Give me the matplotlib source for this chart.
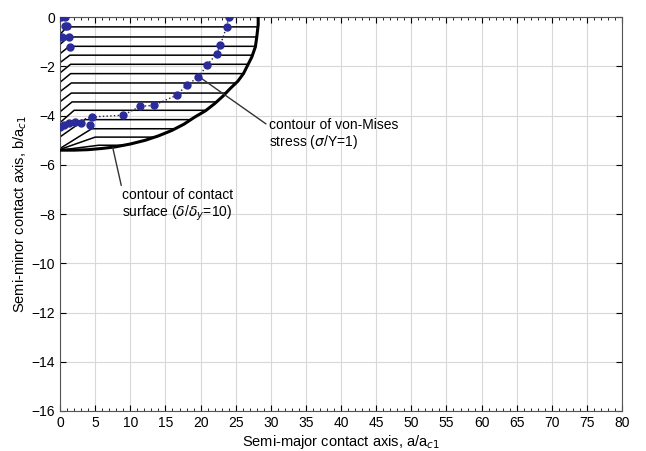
import numpy as np
import matplotlib.pyplot as plt

plt.rcParams['font.family'] = ['Liberation Sans', 'DejaVu Sans']

# outer contour of contact surface (delta/delta_y = 10)
outer_x = [28.2, 28.2, 28.0, 27.8, 27.3, 26.7, 26.1, 25.3, 24.2, 23.2, 22.0, 20.7, 19.2, 17.6,
           15.9, 14.0, 12.1, 10.0, 7.8, 6.0, 4.0, 2.0, 0.0]
outer_y = [0.0, -0.3, -0.8, -1.2, -1.61, -1.95, -2.29, -2.6, -2.9, -3.2, -3.51, -3.8, -4.05, -4.35,
           -4.6, -4.82, -5.0, -5.15, -5.27, -5.33, -5.38, -5.4, -5.4]

# von-Mises contour (sigma/Y = 1)
vm_x = [0.5, 2.1, 4.5, 9.0, 11.4, 13.3, 16.6, 18.0, 19.7, 20.9, 22.3, 22.8, 23.7, 24.0]
vm_y = [-4.39, -4.26, -4.05, -3.98, -3.62, -3.58, -3.17, -2.76, -2.43, -1.95, -1.48, -1.14, -0.39, 0.0]
vm_extra_x = [4.3, 3.0, 1.2, 0.0, 0.7, 0.7, 1.2, 1.4, 0.2, 1.0, 0.3]
vm_extra_y = [-4.39, -4.3, -4.3, -4.45, 0.0, -0.37, -0.8, -1.2, 0.0, -0.37, -0.8]

# hatching of the contact region
hatch_y = [0.0, -0.39, -0.8, -1.18, -1.54, -1.91, -2.29, -2.67, -3.08, -3.44, -3.78, -4.16, -4.53, -4.87, -5.2]
hatch_x0 = [0.0, 1.0, 1.2, 1.3, 1.4, 1.5, 1.5, 1.6, 1.6, 1.7, 2.0, 3.5, 4.5, 5.0, 5.5]
hatch_drop = [0.0, 0.3, 0.3, 0.3, 0.3, 0.35, 0.35, 0.35, 0.35, 0.4, 0.5, 0.7, 0.8, 0.5, 0.2]

x_ticks = list(range(0, 81, 5))
y_ticks = list(range(-16, 1, 2))

fig = plt.figure(figsize=(6.46, 4.51), dpi=100)
ax = fig.add_axes([0.093, 0.0887, 0.87, 0.873])

ax.set_xlim(0, 80)
ax.set_ylim(-16, 0)
ax.set_xticks(x_ticks)
ax.set_yticks(y_ticks)
ax.set_xticks(np.arange(0, 81, 1), minor=True)
ax.grid(True, color='#d8d8d8', linewidth=0.8)
ax.tick_params(which='both', direction='in', top=True, right=True, labelsize=10)
ax.tick_params(which='major', length=4)
ax.tick_params(which='minor', length=2)
for s in ax.spines.values():
    s.set_color('#555555')

ox = np.array(outer_x)[::-1]
oy = np.array(outer_y)[::-1]
for y, x0, d in zip(hatch_y, hatch_x0, hatch_drop):
    xr = np.interp(y, oy, ox)
    ax.plot([0, x0, xr], [y - d, y, y], color='black', linewidth=1.1, zorder=2)

ax.plot(outer_x, outer_y, color='black', linewidth=2.2, zorder=3)

ax.plot(vm_x, vm_y, color='#222244', linewidth=1.0, linestyle=':', zorder=4)
ax.plot(vm_x, vm_y, linestyle='none', marker='o', markersize=5,
        color='#2b2b9a', zorder=5)
ax.plot(vm_extra_x, vm_extra_y, linestyle='none', marker='o', markersize=5,
        color='#2b2b9a', zorder=5)

ax.annotate('contour of von-Mises\nstress ($\\sigma$/Y=1)', xy=(19.7, -2.4), xytext=(29.7, -4.75),
            fontsize=10, va='center', ha='left', linespacing=1.1,
            arrowprops=dict(arrowstyle='-', color='#333333', lw=1.0, shrinkA=0, shrinkB=0,
                            relpos=(0, 0.75)))
ax.annotate('contour of contact\nsurface ($\\delta$/$\\delta_y$=10)', xy=(7.5, -5.3), xytext=(8.8, -7.65),
            fontsize=10, va='center', ha='left', linespacing=1.1,
            arrowprops=dict(arrowstyle='-', color='#333333', lw=1.0, shrinkA=0, shrinkB=0,
                            relpos=(0, 1.0)))

ax.set_xlabel('Semi-major contact axis, a/a$_{c1}$', fontsize=10.5, labelpad=2)
ax.set_ylabel('Semi-minor contact axis, b/a$_{c1}$', fontsize=10.5, labelpad=2)

fig.savefig('out.png', dpi=100)
